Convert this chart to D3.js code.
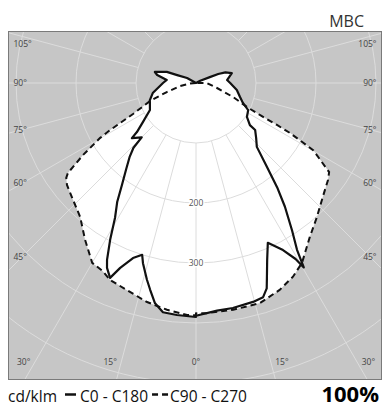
<!DOCTYPE html>
<html>
<head>
<meta charset="utf-8">
<script src="https://cdn.jsdelivr.net/npm/d3@7"></script>
<style>
  body { margin: 0; background: #fff; }
  svg { display: block; }
</style>
</head>
<body>
<svg id="chart" width="386" height="409"></svg>
<script>
// Luminous intensity (cd/klm) against gamma angle (degrees from nadir), per C-plane half.
// C0 = right half of the solid curve, C180 = left half.
const gammaC0 = [0, 5.3, 9.3, 14.6, 17.4, 19, 20.1, 21.9, 24.2, 27.5, 29.5, 30.3, 31.2, 33.1, 35.7, 37.9, 40.2, 43.6, 47.5, 51.5, 52, 56.3, 62.6, 67, 72.3, 80.3, 90, 95.5, 105.5, 110, 112, 113, 118, 125, 180];
const valueC0 = [388, 381, 380, 377, 374, 362, 344, 318, 292, 314, 337, 356, 325, 293, 254, 220, 183, 147, 136, 126, 114, 102, 98, 85, 77, 69, 57, 52, 62, 52, 40, 25, 8, 0, 0];

const gammaC180 = [0, 4.7, 8.2, 10.6, 12.5, 14, 16.4, 17.4, 19.8, 22.3, 23.8, 25.7, 26.7, 28.7, 31, 33.5, 36, 39, 42, 44, 45, 49.3, 50.3, 53.6, 59.6, 69.7, 76.9, 90, 95.9, 101.6, 105, 110.8, 112.8, 119, 125, 180];
const valueC180 = [390, 388, 386, 373, 353, 338, 313, 300, 310, 333, 355, 342, 330, 298, 262, 238, 210, 185, 165, 150, 128, 141, 128, 110, 89, 82, 74, 55, 49, 66, 71, 52, 34, 17, 0, 0];

// C90 = right half of the dashed curve, C270 = left half.
const gammaC90 = [0, 2.7, 9.3, 16.2, 22, 26.6, 30.5, 36.5, 42, 48.1, 53.7, 56.2, 60.2, 62, 62.6, 63.4, 64.8, 69.3, 76.6, 90];
const valueC90 = [384, 384, 383, 382, 372, 361, 348, 319, 301, 284, 273, 267, 225, 177, 152, 119, 94, 66, 36, 18];

const gammaC270 = [0, 2.2, 7.3, 12.6, 18.4, 23.6, 26.4, 30, 35.3, 40.9, 47.4, 51.7, 53.8, 54.9, 57.5, 60.2, 61.3, 63.8, 68.6, 72.8, 79, 85, 90];
const valueC270 = [387, 387, 381, 374, 364, 358, 350, 346, 320, 295, 281, 274, 268, 261, 223, 184, 163, 117, 82, 51, 27, 10, 0];

// Grid and tick values
const ringValues = [100, 200, 300, 400, 500, 600];
const ringLabelValues = [200, 300];
const sideAngleTicks = [105, 90, 75, 60, 45];
const bottomAngleTicks = [-30, -15, 0, 15, 30];
const spokeStep = 15;

// Texts
const unitLabel = "cd/klm";
const solidLabel = "C0 - C180";
const dashedLabel = "C90 - C270";
const headerLabel = "MBC";
const ratioLabel = "100%";

// ---- layout ----
const svg = d3.select("#chart");
const frame = { x0: 8.5, y0: 31.5, x1: 381.5, y1: 379.5 };
const cx = 196, cy = 83;
const radius = d3.scaleLinear().domain([0, 100]).range([0, 60]);
const deg = Math.PI / 180;

const defs = svg.append("defs");
defs.append("clipPath").attr("id", "frameClip")
  .append("rect")
  .attr("x", frame.x0).attr("y", frame.y0)
  .attr("width", frame.x1 - frame.x0).attr("height", frame.y1 - frame.y0);

// gray diagram field
svg.append("rect")
  .attr("x", frame.x0).attr("y", frame.y0)
  .attr("width", frame.x1 - frame.x0).attr("height", frame.y1 - frame.y0)
  .attr("fill", "#c6c6c6");

const plot = svg.append("g").attr("clip-path", "url(#frameClip)");
const g = plot.append("g").attr("transform", `translate(${cx},${cy})`);

// gamma measured from nadir; right half goes counter-clockwise from the bottom
function halfPoints(gammas, values, side) {
  return gammas.map((gm, i) => ({
    a: side === "right" ? Math.PI - gm * deg : Math.PI + gm * deg,
    r: radius(values[i])
  }));
}
function closedCurve(leftG, leftV, rightG, rightV) {
  const left = halfPoints(leftG, leftV, "left").reverse();
  const right = halfPoints(rightG, rightV, "right");
  return left.concat(right);
}

const solidPts = closedCurve(gammaC180, valueC180, gammaC0, valueC0);
const dashedPts = closedCurve(gammaC270, valueC270, gammaC90, valueC90);

const radial = d3.lineRadial()
  .angle(d => d.a)
  .radius(d => d.r)
  .curve(d3.curveLinearClosed);

// white fill of both distributions
g.append("path").attr("d", radial(dashedPts)).attr("fill", "#fff");
g.append("path").attr("d", radial(solidPts)).attr("fill", "#fff");

// grid: rings and spokes (spokes start at the first ring)
const gridColor = "#dcdcdc";
g.selectAll("circle.ring").data(ringValues).join("circle")
  .attr("class", "ring")
  .attr("r", d => radius(d))
  .attr("fill", "none")
  .attr("stroke", gridColor)
  .attr("stroke-width", 1);

const spokes = d3.range(0, 360, spokeStep);
const spokeInner = radius(ringValues[0]);
const spokeOuter = radius(800);
g.selectAll("line.spoke").data(spokes).join("line")
  .attr("class", "spoke")
  .attr("x1", d => spokeInner * Math.sin(d * deg))
  .attr("y1", d => spokeInner * Math.cos(d * deg))
  .attr("x2", d => spokeOuter * Math.sin(d * deg))
  .attr("y2", d => spokeOuter * Math.cos(d * deg))
  .attr("stroke", gridColor)
  .attr("stroke-width", 1);

// ring value labels on the nadir axis
g.selectAll("text.ringLabel").data(ringLabelValues).join("text")
  .attr("class", "ringLabel")
  .attr("x", 0)
  .attr("y", d => radius(d))
  .attr("dy", "0.35em")
  .attr("text-anchor", "middle")
  .attr("font-family", "'Open Sans', sans-serif")
  .attr("font-size", 8.5)
  .attr("fill", "#555")
  .attr("stroke", "#fff")
  .attr("stroke-width", 3)
  .attr("paint-order", "stroke")
  .text(d => d);

// distribution curves
g.append("path").attr("d", radial(dashedPts))
  .attr("fill", "none")
  .attr("stroke", "#111")
  .attr("stroke-width", 2)
  .attr("stroke-dasharray", "6,4");
g.append("path").attr("d", radial(solidPts))
  .attr("fill", "none")
  .attr("stroke", "#111")
  .attr("stroke-width", 2.2)
  .attr("stroke-linejoin", "round");

// frame border
svg.append("rect")
  .attr("x", frame.x0).attr("y", frame.y0)
  .attr("width", frame.x1 - frame.x0).attr("height", frame.y1 - frame.y0)
  .attr("fill", "none")
  .attr("stroke", "#7a7a7a")
  .attr("stroke-width", 1);

// angle labels along the sides
const labelFont = { family: "'Open Sans', sans-serif", size: 8.5, color: "#444" };
const sideDx = 174;
function sideY(a) {
  const y = cy + sideDx / Math.tan(a * deg);
  return Math.max(y, frame.y0 + 13);
}
[["left", frame.x0 + 5, "start"], ["right", frame.x1 - 5, "end"]].forEach(([side, x, anchor]) => {
  svg.selectAll(`text.side-${side}`).data(sideAngleTicks).join("text")
    .attr("class", `side-${side}`)
    .attr("x", x)
    .attr("y", d => sideY(d))
    .attr("dy", "0.35em")
    .attr("text-anchor", anchor)
    .attr("font-family", labelFont.family)
    .attr("font-size", labelFont.size)
    .attr("fill", labelFont.color)
    .text(d => d + "°");
});

// angle labels along the bottom
const bottomY = frame.y1 - 17;
svg.selectAll("text.bottom").data(bottomAngleTicks).join("text")
  .attr("class", "bottom")
  .attr("x", d => cx + (bottomY - cy) * Math.tan(d * deg) + Math.sign(d) * 11)
  .attr("y", bottomY)
  .attr("dy", "0.35em")
  .attr("text-anchor", "middle")
  .attr("font-family", labelFont.family)
  .attr("font-size", labelFont.size)
  .attr("fill", labelFont.color)
  .text(d => Math.abs(d) + "°");

// header
svg.append("text")
  .attr("x", 364).attr("y", 27)
  .attr("text-anchor", "end")
  .attr("font-family", "'Open Sans', sans-serif")
  .attr("font-weight", 400)
  .attr("font-size", 16)
  .attr("fill", "#333")
  .text(headerLabel);

// legend: text pieces chained with line-style swatches between them
const legendY = 402;
const legendFont = "'Open Sans', sans-serif";
const legendSize = 15.5;
const legend = svg.append("g");
let lx = 8;
function legendText(str) {
  const t = legend.append("text").attr("x", lx).attr("y", legendY)
    .attr("font-family", legendFont).attr("font-size", legendSize).attr("fill", "#111")
    .text(str);
  lx += t.node().getComputedTextLength();
}
function legendSwatch(width, dash, gapBefore, gapAfter) {
  lx += gapBefore;
  const ln = legend.append("line")
    .attr("x1", lx).attr("x2", lx + width).attr("y1", 394.5).attr("y2", 394.5)
    .attr("stroke", "#111").attr("stroke-width", 2.5);
  if (dash) ln.attr("stroke-dasharray", dash);
  lx += width + gapAfter;
}
legendText(unitLabel);
legendSwatch(11, null, 8, 4);
legendText(solidLabel);
legendSwatch(16, "6,4", 4, 2);
legendText(dashedLabel);

svg.append("text")
  .attr("x", 379).attr("y", 402)
  .attr("text-anchor", "end")
  .attr("font-family", "'Liberation Sans Narrow', 'Open Sans', sans-serif")
  .attr("font-weight", 700)
  .attr("font-size", 22)
  .attr("fill", "#000")
  .text(ratioLabel);
</script>
</body>
</html>
